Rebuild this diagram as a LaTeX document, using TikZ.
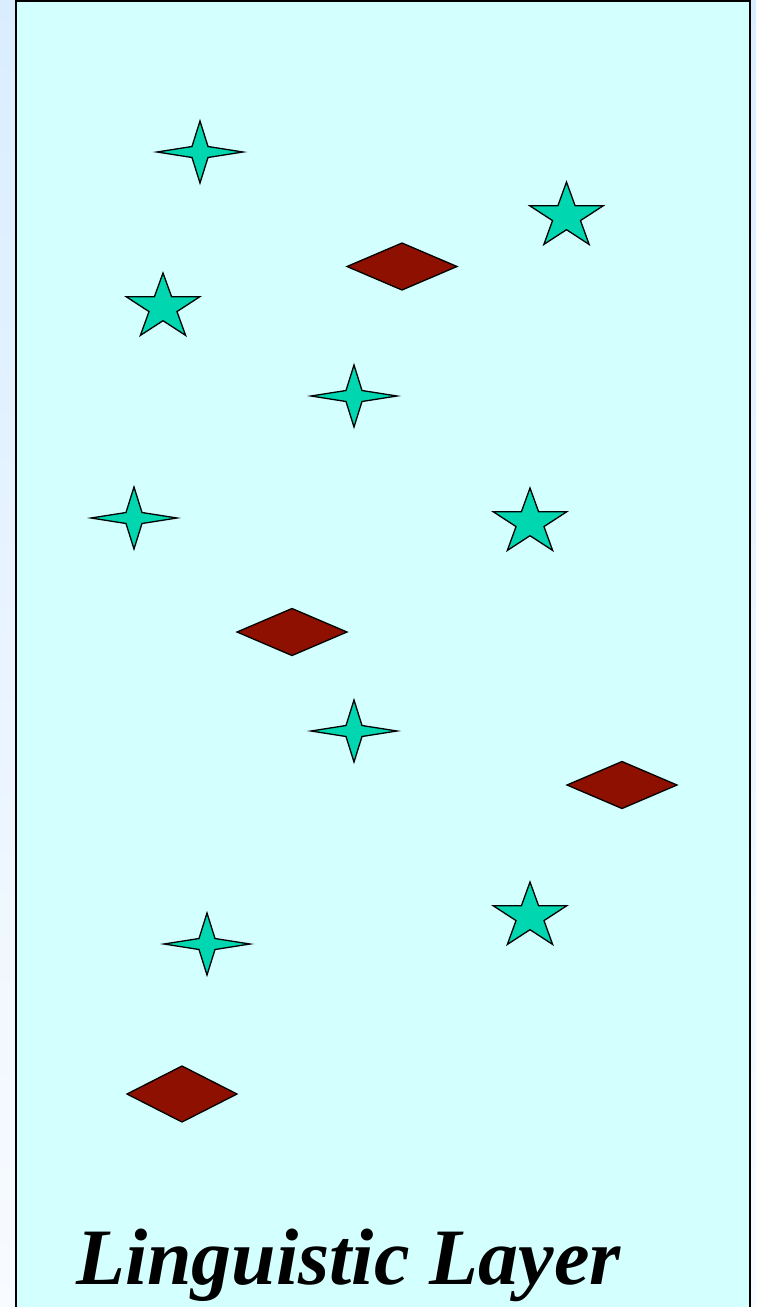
\documentclass[tikz,border=0pt]{standalone}
\usepackage{fontspec}
\setmainfont{Liberation Serif}
\definecolor{bgtop}{RGB}{218,237,255}
\definecolor{bgbot}{RGB}{248,251,255}
\definecolor{panel}{RGB}{212,255,255}
\definecolor{teal}{RGB}{0,214,176}
\definecolor{brick}{RGB}{142,16,0}
\tikzset{
  shapeline/.style={draw=black, line width=1.3pt, line join=miter},
  pics/fourstar/.style={code={
    \path[shapeline, fill=teal] (0,-31) -- (8,-5.5) -- (43,0) -- (8,5.5) -- (0,31)
      -- (-8,5.5) -- (-43,0) -- (-8,-5.5) -- cycle;}},
  pics/fivestar/.style={code={
    \path[shapeline, fill=teal]
      (-90:38.5 and 34.5) -- (-54:14.7 and 13.2) -- (-18:38.5 and 34.5) -- (18:14.7 and 13.2)
      -- (54:38.5 and 34.5) -- (90:14.7 and 13.2) -- (126:38.5 and 34.5) -- (162:14.7 and 13.2)
      -- (198:38.5 and 34.5) -- (234:14.7 and 13.2) -- cycle;}},
  pics/rhombus/.style={code={
    \path[shapeline, fill=brick] (0,-#1) -- (55,0) -- (0,#1) -- (-55,0) -- cycle;}},
}
\begin{document}
\begin{tikzpicture}[x=1pt,y=-1pt]
\useasboundingbox (0,0) rectangle (756,1307);
\shade[top color=bgtop, bottom color=bgbot] (0,0) rectangle (756,1307);
\path[fill=panel, draw=black, line width=2pt] (16,0.6) rectangle (750,1320);
% four-point stars
\pic at (200,152) {fourstar};
\pic at (354,396) {fourstar};
\pic at (134,518) {fourstar};
\pic at (354,731) {fourstar};
\pic at (207,944) {fourstar};
% five-point stars
\pic at (566.5,216.5) {fivestar};
\pic at (163,307.5) {fivestar};
\pic at (530,522.5) {fivestar};
\pic at (530,916.5) {fivestar};
% diamonds
\pic at (402,266.5) {rhombus=23.5};
\pic at (292,632) {rhombus=23.5};
\pic at (622,785) {rhombus=23.5};
\pic at (182,1094) {rhombus=28};
% label
\node[anchor=base west, inner sep=0pt, font=\fontsize{80}{80}\selectfont\bfseries\itshape] (title) at (76,1284) {Linguistic Layer};
\end{tikzpicture}
\end{document}
